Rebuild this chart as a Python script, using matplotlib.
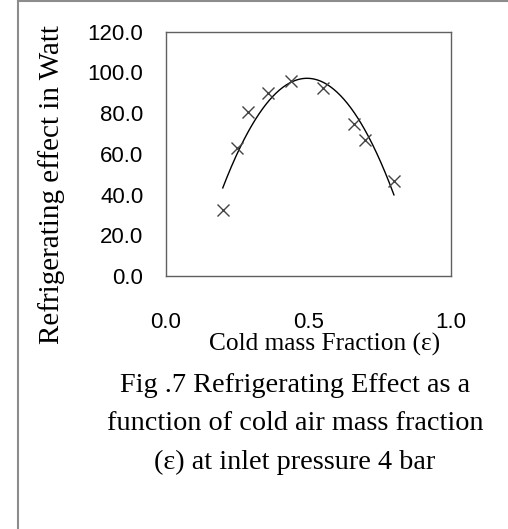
import numpy as np
import matplotlib.pyplot as plt
from matplotlib.lines import Line2D

# cold mass fraction and refrigerating effect (W)
eps = [0.20, 0.25, 0.29, 0.36, 0.44, 0.55, 0.66, 0.70, 0.80]
q_watt = [32.4, 63.0, 80.7, 89.7, 95.8, 92.3, 74.7, 66.8, 46.7]
x_ticks = [0.0, 0.5, 1.0]
y_ticks = [0, 20, 40, 60, 80, 100, 120]

W, H = 508, 529
fig = plt.figure(figsize=(W / 100, H / 100), dpi=100)

# outer frame (only left and top edges show)
fig.add_artist(Line2D([18 / W, 18 / W], [0, 1 - 1 / H], color='#8c8c8c', lw=1.5))
fig.add_artist(Line2D([18 / W, 1], [1 - 1 / H, 1 - 1 / H], color='#8c8c8c', lw=1.5))

ax = fig.add_axes([165.7 / W, 1 - 276 / H, 285.3 / W, 244.3 / H])

# polynomial trendline
coef = np.polyfit(eps, q_watt, 2)
xs = np.linspace(min(eps), max(eps), 200)
ax.plot(xs, np.polyval(coef, xs), color='black', lw=1.0)
ax.plot(eps, q_watt, linestyle='none', marker='x', ms=9, mew=1.0, color='#444444')

ax.set_xlim(0, 1)
ax.set_ylim(0, 120)
ax.set_xticks(x_ticks)
ax.set_xticklabels(['%.1f' % v for v in x_ticks])
ax.set_yticks(y_ticks)
ax.set_yticklabels(['%.1f' % v for v in y_ticks])
ax.tick_params(length=0, labelsize=16, colors='black')
ax.tick_params(axis='y', pad=16)
ax.tick_params(axis='x', pad=26)
for lab in ax.get_xticklabels() + ax.get_yticklabels():
    lab.set_family('Liberation Sans')
for s in ax.spines.values():
    s.set_color('#606060')
    s.set_linewidth(1.0)

serif = 'Liberation Serif'
fig.text(52 / W, 1 - 185 / H, 'Refrigerating effect in Watt', rotation=90,
         ha='center', va='center', family=serif, fontsize=21)
fig.text(325 / W, 1 - 344 / H, 'Cold mass Fraction (\u03b5)',
         ha='center', va='center', family=serif, fontsize=18.3)
caption = ['Fig .7 Refrigerating Effect as a',
           'function of cold air mass fraction',
           '(\u03b5) at inlet pressure 4 bar']
for i, line in enumerate(caption):
    fig.text(295 / W, 1 - (385 + 38.5 * i) / H, line,
             ha='center', va='center', family=serif, fontsize=20.3)

fig.savefig('out.png', dpi=100)
